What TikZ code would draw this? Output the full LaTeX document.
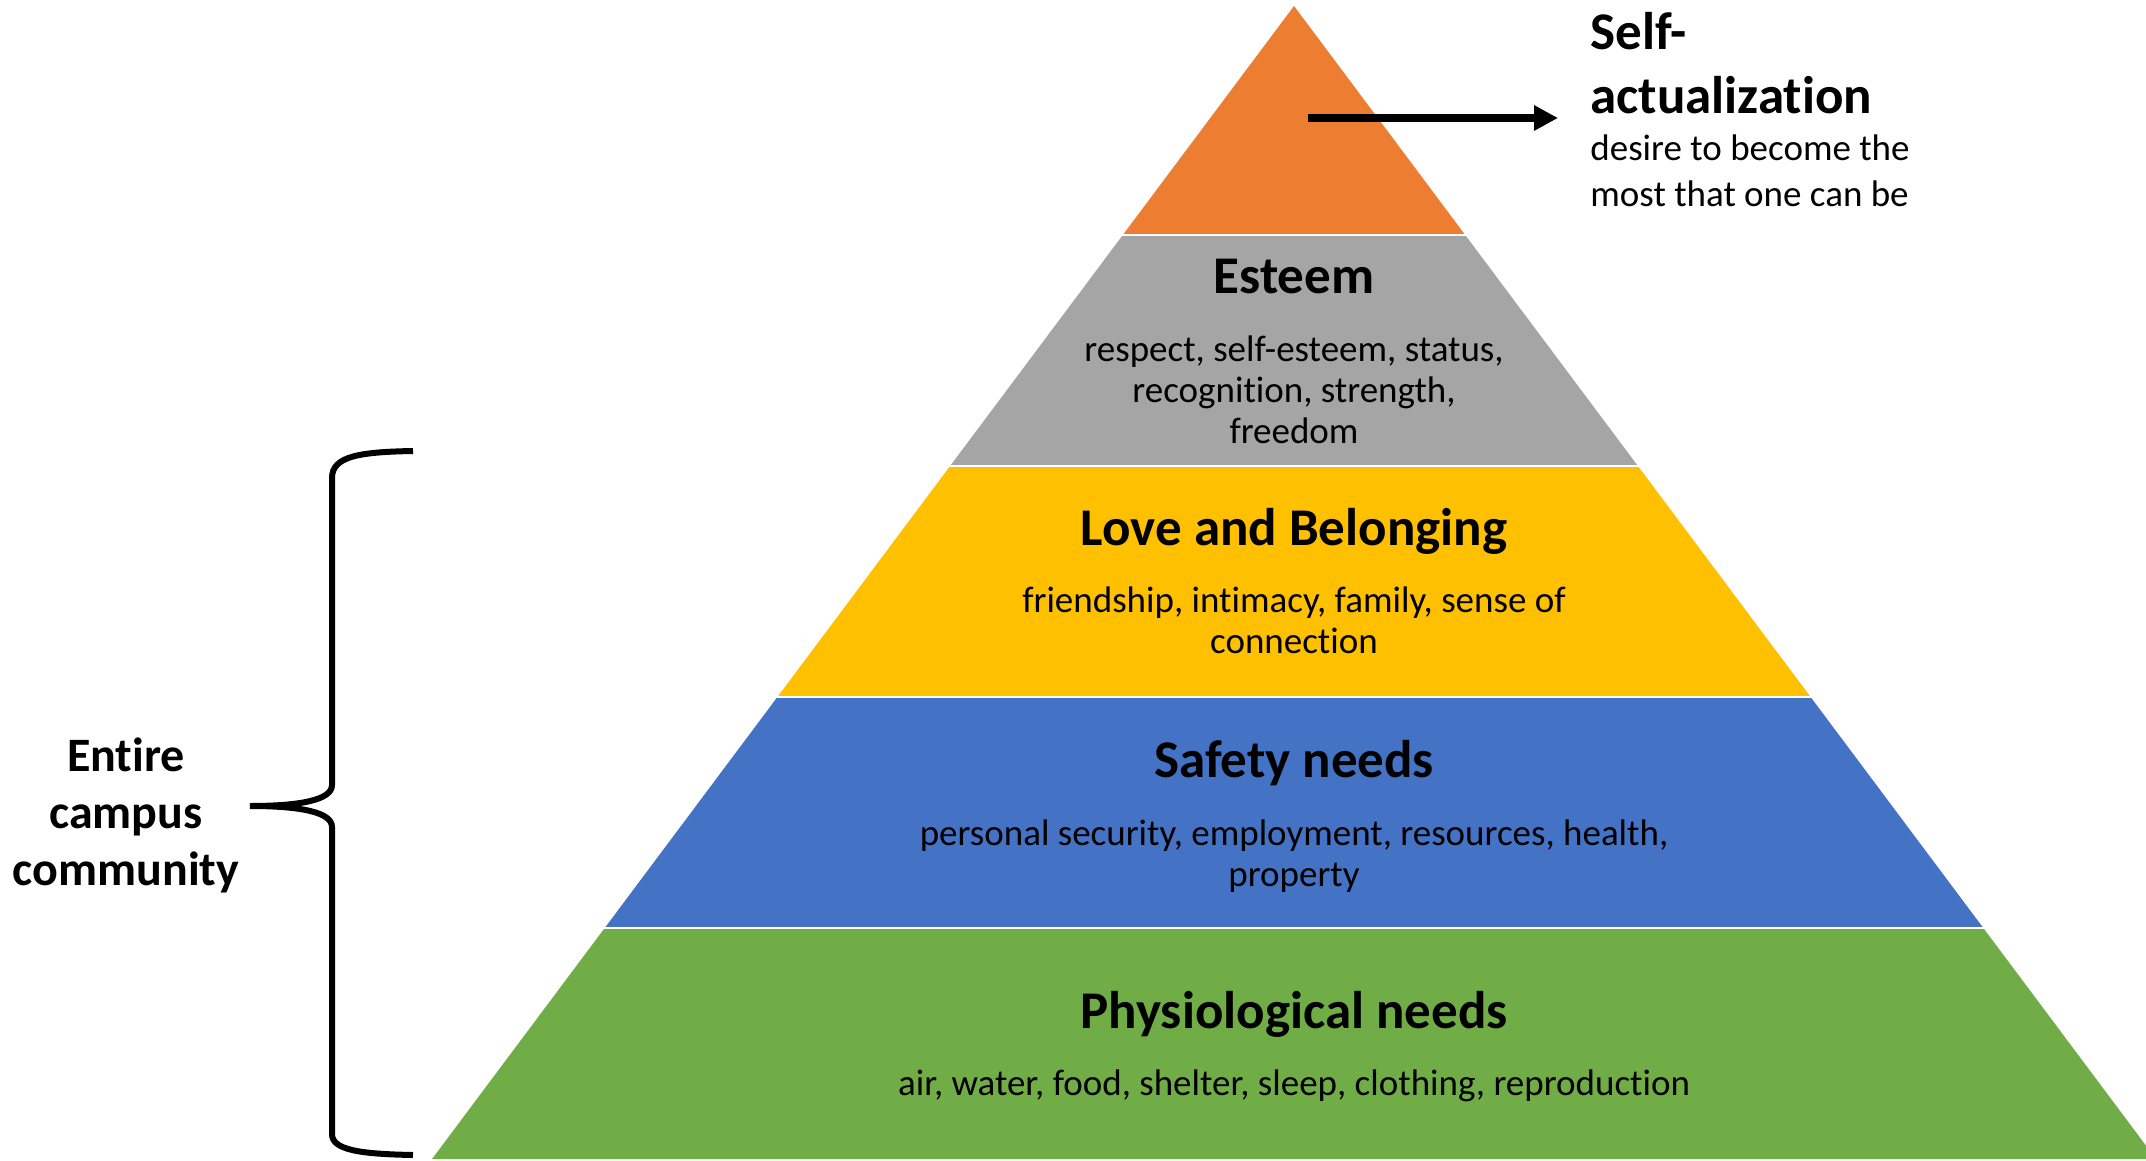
\documentclass[tikz,border=0pt]{standalone}
\usepackage{fontspec}
\setmainfont{Carlito}[Ligatures=NoCommon]
\usetikzlibrary{arrows.meta}

\definecolor{selfcol}{HTML}{ED7D31}
\definecolor{esteemcol}{HTML}{A5A5A5}
\definecolor{lovecol}{HTML}{FFC000}
\definecolor{safetycol}{HTML}{4472C4}
\definecolor{physiocol}{HTML}{70AD47}

\tikzset{
  heading/.style={font=\fontsize{26.5}{32}\selectfont\bfseries, inner sep=0pt, anchor=base},
  bodytxt/.style={font=\fontsize{18.5}{20.5}\selectfont, align=center, inner sep=0pt, anchor=base},
}

\begin{document}
\begin{tikzpicture}[x=0.5pt,y=-0.5pt]
    \useasboundingbox (0,0) rectangle (2146,1161);
    \clip (0,0) rectangle (2146,1161);
    % Draw layers of the pyramid
    \foreach \ytop/\ybot/\col in {6/235/selfcol, 235/466/esteemcol, 466/697/lovecol, 697/928/safetycol, 928/1159/physiocol}
        \fill[\col] ({1294-0.7476*(\ytop-6)},\ytop) -- ({1294+0.7476*(\ytop-6)},\ytop)
            -- ({1294+0.7476*(\ybot-6)},\ybot) -- ({1294-0.7476*(\ybot-6)},\ybot) -- cycle;
    % White gaps between layers
    \foreach \y in {235,466,697,928}
        \draw[white, line width=1.2pt] ({1290-0.7476*(\y-6)},\y) -- ({1298+0.7476*(\y-6)},\y);

    % Layer texts (anchored at the last baseline)
    \node[heading] (esteem) at (1294,293) {Esteem};
    \node[bodytxt] (esteembody) at (1294,443) {respect, self-esteem, status,\\recognition, strength,\\freedom};
    \node[heading] (love) at (1294,545) {Love and Belonging};
    \node[bodytxt] (lovebody) at (1294,653) {friendship, intimacy, family, sense of\\connection};
    \node[heading] (safety) at (1294,777) {Safety needs};
    \node[bodytxt] (safetybody) at (1294,886) {personal security, employment, resources, health,\\property};
    \node[heading] (physio) at (1294,1028) {Physiological needs};
    \node[bodytxt] (physiobody) at (1294,1095) {air, water, food, shelter, sleep, clothing, reproduction};

    % Top level label and arrow
    \node[heading, align=left, anchor=base west] (selfact) at (1590,113) {Self-\\actualization};
    \node[bodytxt, align=left, anchor=base west, font=\fontsize{18.5}{23}\selectfont] (selfdesc) at (1590,206) {desire to become the\\most that one can be};
    \coordinate (arrowstart) at (1308,118);
    \draw[line width=4pt, -{Triangle[length=12pt,width=12pt]}, shorten >=16pt]
        (arrowstart) -- (arrowstart -| selfact.west);

    % Brace and campus label
    \draw[line width=3pt] (413,451) .. controls (360,452) and (332,456) .. (332,478)
        -- (332,785) .. controls (332,800) and (300,806) .. (250,806)
        .. controls (300,806) and (332,812) .. (332,827)
        -- (332,1134) .. controls (332,1150) and (360,1154) .. (413,1155);
    \node[font=\fontsize{24}{28.5}\selectfont\bfseries, align=center, anchor=base, inner sep=0pt] (campus)
        at (126,885) {Entire\\campus\\community};
\end{tikzpicture}
\end{document}
